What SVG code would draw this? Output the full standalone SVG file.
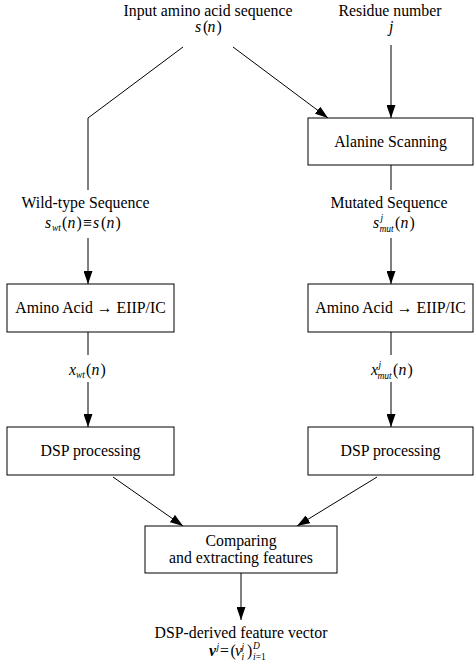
<svg xmlns="http://www.w3.org/2000/svg" width="474" height="670" viewBox="0 0 474 670" font-family="'Liberation Serif', 'Times New Roman', serif">
<style>
text{font-family:'Liberation Serif','Times New Roman',serif;font-size:15.8px;fill:#000}
.c{text-anchor:middle}
.i{font-style:italic}
.s{font-size:9.5px;font-style:italic}
.n{font-style:normal}
.bi{font-style:italic;font-weight:bold}
.box{fill:#fff;stroke:#000;stroke-width:1}
.ln{fill:none;stroke:#000;stroke-width:1}
</style>
<defs>
<marker id="ah" markerUnits="userSpaceOnUse" markerWidth="13" markerHeight="9" refX="13" refY="4.5" orient="auto">
<path d="M0,0 L13,4.5 L0,9 z" fill="#000"/>
</marker>
</defs>
<rect width="474" height="670" fill="#fff"/>

<g id="connectors">
<polyline class="ln" points="183,47 88,118 88,190"/>
<line class="ln" x1="233" y1="47" x2="328" y2="118" marker-end="url(#ah)"/>
<line class="ln" x1="391" y1="45" x2="391" y2="118" marker-end="url(#ah)"/>
<line class="ln" x1="391" y1="165" x2="391" y2="190"/>
<line class="ln" x1="88" y1="238" x2="88" y2="284" marker-end="url(#ah)"/>
<line class="ln" x1="391" y1="238" x2="391" y2="284" marker-end="url(#ah)"/>
<line class="ln" x1="88" y1="332" x2="88" y2="355"/>
<line class="ln" x1="391" y1="332" x2="391" y2="355"/>
<line class="ln" x1="88" y1="382" x2="88" y2="427" marker-end="url(#ah)"/>
<line class="ln" x1="391" y1="382" x2="391" y2="427" marker-end="url(#ah)"/>
<line class="ln" x1="113" y1="477" x2="183" y2="526" marker-end="url(#ah)"/>
<line class="ln" x1="377" y1="477" x2="297" y2="526" marker-end="url(#ah)"/>
<line class="ln" x1="241" y1="573" x2="241" y2="620" marker-end="url(#ah)"/>
</g>

<g id="input">
<text class="c" x="208" y="16">Input amino acid sequence</text>
<text y="32"><tspan class="i" x="195">s</tspan><tspan x="203">(</tspan><tspan class="i" x="207.5">n</tspan><tspan x="216.5">)</tspan></text>
</g>

<g id="residue">
<text class="c" x="390" y="16">Residue number</text>
<text class="i" x="389" y="32">j</text>
</g>

<g id="alanine">
<rect class="box" x="308" y="118" width="165" height="47"/>
<text class="c" x="390.5" y="147">Alanine Scanning</text>
</g>

<g id="wildtype">
<text class="c" x="85.5" y="208">Wild-type Sequence</text>
<text><tspan class="i" x="45" y="228">s</tspan><tspan class="s" x="52" y="231">wt</tspan><tspan x="62" y="228">(</tspan><tspan class="i" x="67.5" y="228">n</tspan><tspan x="76.5" y="228">)</tspan><tspan x="83" y="228">≡</tspan><tspan class="i" x="93" y="228">s</tspan><tspan x="101" y="228">(</tspan><tspan class="i" x="106.5" y="228">n</tspan><tspan x="115.5" y="228">)</tspan></text>
</g>

<g id="mutated">
<text class="c" x="389" y="208">Mutated Sequence</text>
<text><tspan class="i" x="373" y="228">s</tspan><tspan class="s" x="380.5" y="221">j</tspan><tspan class="s" x="379.5" y="232">mut</tspan><tspan x="395" y="228">(</tspan><tspan class="i" x="400.5" y="228">n</tspan><tspan x="409.5" y="228">)</tspan></text>
</g>

<g id="amino-left">
<rect class="box" x="7" y="284" width="167" height="48"/>
<text class="c" x="90.5" y="313">Amino Acid → EIIP/IC</text>
</g>

<g id="amino-right">
<rect class="box" x="308" y="284" width="165" height="48"/>
<text class="c" x="390.5" y="313">Amino Acid → EIIP/IC</text>
</g>

<g id="xwt">
<text><tspan class="i" x="69" y="375">x</tspan><tspan class="s" x="76" y="378">wt</tspan><tspan x="86" y="375">(</tspan><tspan class="i" x="91.5" y="375">n</tspan><tspan x="100.5" y="375">)</tspan></text>
</g>

<g id="xmut">
<text><tspan class="i" x="371" y="375">x</tspan><tspan class="s" x="378.5" y="368">j</tspan><tspan class="s" x="377.5" y="379">mut</tspan><tspan x="393" y="375">(</tspan><tspan class="i" x="398.5" y="375">n</tspan><tspan x="407.5" y="375">)</tspan></text>
</g>

<g id="dsp-left">
<rect class="box" x="7" y="427" width="167" height="48"/>
<text class="c" x="90.5" y="456">DSP processing</text>
</g>

<g id="dsp-right">
<rect class="box" x="308" y="427" width="165" height="48"/>
<text class="c" x="390.5" y="456">DSP processing</text>
</g>

<g id="compare">
<rect class="box" x="145" y="526" width="192" height="47"/>
<text class="c" x="241" y="546">Comparing</text>
<text class="c" x="241" y="563">and extracting features</text>
</g>

<g id="output">
<text class="c" x="241" y="638">DSP-derived feature vector</text>
<text><tspan class="bi" x="209" y="656">v</tspan><tspan class="s" x="216.5" y="650">j</tspan><tspan x="220" y="656">=</tspan><tspan x="230.5" y="656">(</tspan><tspan class="i" x="235" y="656">v</tspan><tspan class="s" x="241.5" y="650">j</tspan><tspan class="s" x="241.5" y="660">i</tspan><tspan x="247" y="656">)</tspan><tspan class="s" x="253" y="649">D</tspan><tspan class="s" x="253" y="660">i</tspan><tspan class="s n">=1</tspan></text>
</g>
</svg>
